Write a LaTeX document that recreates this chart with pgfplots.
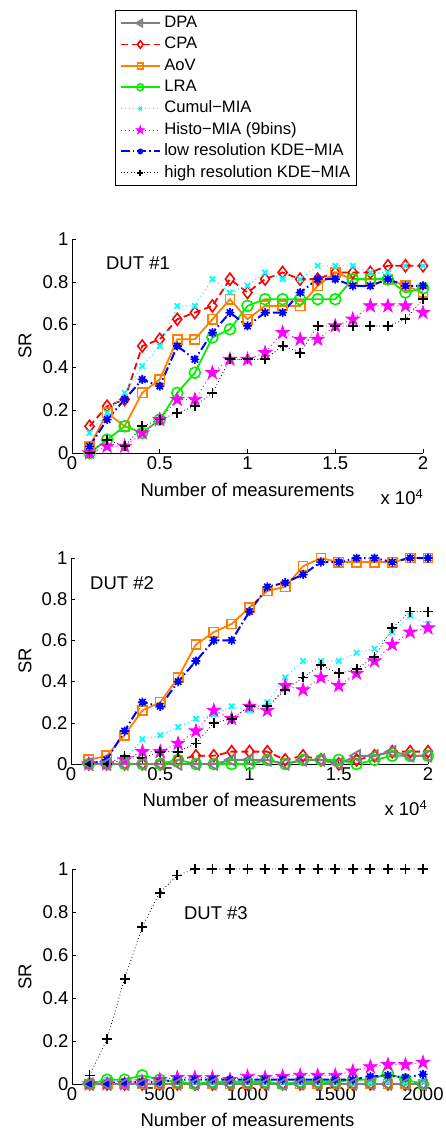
\documentclass[border=0pt]{standalone}
\usepackage{fontspec}
\setmainfont{Liberation Sans}
\usepackage{pgfplots}
\usepackage{pgfplotstable}
\pgfplotsset{compat=1.18}
\newcommand\fs{\fontsize{18.5}{22}\selectfont}
\definecolor{dpagray}{RGB}{128,128,128}
\definecolor{aovorange}{RGB}{255,128,0}
\definecolor{lragreen}{RGB}{0,240,0}
\definecolor{cumcyan}{RGB}{0,255,255}
\definecolor{hismag}{RGB}{255,0,255}

\pgfdeclareplotmark{pentagram}{%
 \pgfpathmoveto{\pgfpointpolar{90}{\pgfplotmarksize}}%
 \pgfpathlineto{\pgfpointpolar{126}{0.382\pgfplotmarksize}}%
 \pgfpathlineto{\pgfpointpolar{162}{\pgfplotmarksize}}%
 \pgfpathlineto{\pgfpointpolar{198}{0.382\pgfplotmarksize}}%
 \pgfpathlineto{\pgfpointpolar{234}{\pgfplotmarksize}}%
 \pgfpathlineto{\pgfpointpolar{270}{0.382\pgfplotmarksize}}%
 \pgfpathlineto{\pgfpointpolar{306}{\pgfplotmarksize}}%
 \pgfpathlineto{\pgfpointpolar{342}{0.382\pgfplotmarksize}}%
 \pgfpathlineto{\pgfpointpolar{18}{\pgfplotmarksize}}%
 \pgfpathlineto{\pgfpointpolar{54}{0.382\pgfplotmarksize}}%
 \pgfpathclose
 \pgfusepathqfillstroke
}
\pgfdeclareplotmark{mstar}{%
 \pgfpathcircle{\pgfpointorigin}{0.5\pgfplotmarksize}\pgfusepathqfillstroke
 \pgfpathmoveto{\pgfpoint{-\pgfplotmarksize}{0pt}}\pgfpathlineto{\pgfpoint{\pgfplotmarksize}{0pt}}%
 \pgfpathmoveto{\pgfpoint{0pt}{-\pgfplotmarksize}}\pgfpathlineto{\pgfpoint{0pt}{\pgfplotmarksize}}%
 \pgfpathmoveto{\pgfpointpolar{45}{\pgfplotmarksize}}\pgfpathlineto{\pgfpointpolar{225}{\pgfplotmarksize}}%
 \pgfpathmoveto{\pgfpointpolar{135}{\pgfplotmarksize}}\pgfpathlineto{\pgfpointpolar{315}{\pgfplotmarksize}}%
 \pgfusepathqstroke
}

\pgfplotsset{
 sDPA/.style={color=dpagray, line width=2pt, mark=triangle, mark size=6.5pt, mark options={solid, rotate=90, line width=1.8pt}},
 sCPA/.style={color=red, line width=1.8pt, dash pattern=on 7pt off 4pt, mark=diamond, mark size=6pt, mark options={solid, line width=1.6pt}},
 sAoV/.style={color=aovorange, line width=1.8pt, mark=square, mark size=4.6pt, mark options={solid, line width=1.6pt}},
 sLRA/.style={color=lragreen, line width=1.8pt, mark=o, mark size=5.5pt, mark options={solid, line width=1.6pt}},
 sCum/.style={color=cumcyan, line width=1pt, dash pattern=on 1pt off 3pt, mark=x, mark size=3.8pt, mark options={solid, line width=1.8pt}},
 sHis/.style={color=hismag, line width=1pt, dash pattern=on 1pt off 3pt, mark=pentagram, mark size=7pt, mark options={solid, fill=hismag, line width=0.8pt}},
 sLow/.style={color=blue, line width=2pt, dash pattern=on 9pt off 3pt on 1.5pt off 3pt, mark=mstar, mark size=4.5pt, mark options={solid, fill=blue, line width=1.6pt}},
 sHigh/.style={color=black, line width=0.8pt, dash pattern=on 0.8pt off 2.5pt, mark=+, mark size=5pt, mark options={solid, line width=1.8pt}},
 myaxis/.style={
  scale only axis, axis lines=left, axis line style={-, line width=0.6pt},
  xmin=0, ymin=0, ymax=1, tick align=inside, major tick length=4pt,
  tick style={black, line width=0.6pt}, scaled x ticks=false, scaled y ticks=false,
  ytick={0,0.2,0.4,0.6,0.8,1}, yticklabels={0,0.2,0.4,0.6,0.8,1},
  tick label style={font=\fs}, label style={font=\fs},
  /pgf/number format/assume math mode=true,
  ylabel={SR}, xlabel={Number of measurements}, clip=false,
 },
}

\pgfplotstableread{
x cpa aov lra cum his low high
1000 0.125 0.03125 0 0.09375 0 0.03125 0
2000 0.21875 0.1875 0.0625 0.1875 0.03125 0.15625 0.0625
3000 0.25 0.125 0.125 0.28125 0.03125 0.25 0.03125
4000 0.5 0.28125 0.09375 0.40625 0.09375 0.34375 0.125
5000 0.53125 0.34375 0.15625 0.5 0.15625 0.3125 0.15625
6000 0.625 0.53125 0.28125 0.6875 0.25 0.5 0.1875
7000 0.65625 0.53125 0.375 0.6875 0.25 0.4375 0.21875
8000 0.6875 0.625 0.54 0.8125 0.375 0.5625 0.28125
9000 0.8125 0.71875 0.578 0.75 0.4375 0.65625 0.4375
10000 0.75 0.625 0.6875 0.78125 0.4375 0.59375 0.4375
11000 0.8125 0.6875 0.71875 0.84375 0.46875 0.65625 0.4375
12000 0.84375 0.6875 0.71875 0.8125 0.5625 0.65625 0.5
13000 0.8125 0.6875 0.71875 0.8125 0.53125 0.75 0.46875
14000 0.8125 0.78125 0.71875 0.875 0.53125 0.8125 0.59375
15000 0.84375 0.84375 0.71875 0.875 0.59375 0.8125 0.59375
16000 0.84375 0.8125 0.8125 0.875 0.625 0.78125 0.59375
17000 0.84375 0.8125 0.8125 0.84375 0.6875 0.78125 0.59375
18000 0.875 0.8125 0.8125 0.84375 0.6875 0.8125 0.59375
19000 0.875 0.78125 0.75 0.875 0.6875 0.78125 0.625
20000 0.875 0.75 0.77 0.875 0.65625 0.78125 0.71875
}\dutone

\pgfplotstableread{
x dpa cpa aov lra cum his low high
1000 0 0 0.02 0 0 0 0 0
2000 0 0 0.04 0 0 0 0.02 0
3000 0 0 0.14 0 0.02 0.02 0.16 0.04
4000 0 0 0.26 0 0.12 0.06 0.30 0.03
5000 0 0 0.30 0 0.14 0.06 0.28 0.06
6000 0 0.02 0.42 0.02 0.18 0.10 0.40 0.06
7000 0 0.04 0.58 0 0.22 0.16 0.50 0.10
8000 0 0.04 0.64 0 0.24 0.26 0.60 0.20
9000 0.02 0.06 0.68 0 0.28 0.22 0.60 0.22
10000 0.02 0.06 0.76 0 0.26 0.28 0.74 0.28
11000 0.02 0.06 0.84 0.02 0.30 0.26 0.86 0.28
12000 0 0.02 0.86 0 0.42 0.38 0.88 0.36
13000 0.02 0.04 0.96 0.02 0.50 0.36 0.92 0.42
14000 0.02 0.02 1.00 0.02 0.50 0.42 0.98 0.48
15000 0 0 0.98 0.02 0.50 0.38 0.98 0.44
16000 0.04 0.02 0.98 0 0.54 0.44 1.00 0.46
17000 0.04 0.04 0.98 0.02 0.56 0.50 1.00 0.52
18000 0.06 0.06 0.98 0.04 0.64 0.58 0.98 0.66
19000 0.04 0.06 1.00 0.04 0.72 0.64 1.00 0.74
20000 0.04 0.06 1.00 0.04 0.68 0.66 1.00 0.74
}\duttwo

\pgfplotstableread{
x dpa cpa aov lra cum his low high
100 0 0 0 0 0 0 0 0.04
200 0 0 0 0.02 0.02 0 0 0.21
300 0 0 0 0.02 0.01 0 0.01 0.49
400 0 0 0 0.04 0.01 0.01 0.01 0.73
500 0 0 0 0.02 0.01 0.02 0.01 0.89
600 0 0 0 0.01 0.02 0.03 0.02 0.97
700 0 0 0 0 0.01 0.03 0.02 1
800 0 0 0 0.01 0.01 0.03 0.02 1
900 0 0 0 0.01 0.01 0.02 0.02 1
1000 0 0 0 0.01 0.01 0.035 0.02 1
1100 0 0 0 0.01 0.01 0.03 0.02 1
1200 0 0 0 0 0.01 0.035 0.02 1
1300 0 0 0 0.01 0.01 0.04 0.02 1
1400 0 0 0 0.01 0.01 0.04 0.02 1
1500 0 0 0 0.01 0.01 0.04 0.02 1
1600 0 0 0 0.02 0.01 0.06 0.02 1
1700 0 0 0 0.02 0.01 0.08 0.035 1
1800 0 0 0 0.05 0.01 0.09 0.04 1
1900 0 0 0 0.02 0.01 0.09 0.03 1
2000 0 0 0 0 0.01 0.10 0.045 1
}\dutthree

\begin{document}
\begin{tikzpicture}
\useasboundingbox (0,0) rectangle (446pt,-1131pt);
% ---------------- DUT 1 ----------------
\begin{axis}[myaxis, at={(72pt,-453pt)}, anchor=south west, width=351pt, height=214pt,
  xmax=20000, xtick={0,5000,10000,15000,20000}, xticklabels={0,0.5,1,1.5,2},
  xlabel style={at={(axis description cs:0.5,-0.173)}, anchor=center},
  ylabel style={at={(axis description cs:-0.134,0.5)}, anchor=center},
  legend image code/.code={\draw[mark repeat=2,mark phase=2,#1, every mark/.append style={scale=0.62}] plot coordinates {(0pt,0pt) (19.5pt,0pt) (39pt,0pt)};},
  legend style={at={(axis description cs:0.1225,2.070)}, anchor=north west, draw=black, line width=0.6pt, fill=white,
    font=\fontsize{16.6}{19}\selectfont, inner xsep=4.5pt, inner ysep=3pt, row sep=1.9pt, column sep=1.5pt,
    nodes={inner sep=2pt, text height=12pt, text depth=3.5pt}},
  legend cell align=left]
\addlegendimage{sDPA}
\addlegendimage{sCPA}
\addlegendimage{sAoV}
\addlegendimage{sLRA}
\addlegendimage{sCum}
\addlegendimage{sHis}
\addlegendimage{sLow}
\addlegendimage{sHigh}
\addplot[sCPA, forget plot] table[x=x, y=cpa] {\dutone};
\addplot[sAoV, forget plot] table[x=x, y=aov] {\dutone};
\addplot[sLRA, forget plot] table[x=x, y=lra] {\dutone};
\addplot[sCum, forget plot] table[x=x, y=cum] {\dutone};
\addplot[sHis, forget plot] table[x=x, y=his] {\dutone};
\addplot[sLow, forget plot] table[x=x, y=low] {\dutone};
\addplot[sHigh, forget plot] table[x=x, y=high] {\dutone};
\legend{DPA, CPA, AoV, LRA, Cumul−MIA, Histo−MIA (9bins), low resolution KDE−MIA, high resolution KDE−MIA}
\node[font=\fs] at (axis description cs:0.188,0.888) {DUT \#1};
\node[font=\fs] at (axis description cs:0.94,-0.206) {x 10\textsuperscript{4}};
\end{axis}
% ---------------- DUT 2 ----------------
\begin{axis}[myaxis, at={(71pt,-764pt)}, anchor=south west, width=357pt, height=206pt,
  xmax=20000, xtick={0,5000,10000,15000,20000}, xticklabels={0,0.5,1,1.5,2},
  xlabel style={at={(axis description cs:0.5,-0.175)}, anchor=center},
  ylabel style={at={(axis description cs:-0.129,0.5)}, anchor=center}]
\addplot[sCPA] table[x=x, y=cpa] {\duttwo};
\addplot[sAoV] table[x=x, y=aov] {\duttwo};
\addplot[sLRA] table[x=x, y=lra] {\duttwo};
\addplot[sCum] table[x=x, y=cum] {\duttwo};
\addplot[sHis] table[x=x, y=his] {\duttwo};
\addplot[sLow] table[x=x, y=low] {\duttwo};
\addplot[sHigh] table[x=x, y=high] {\duttwo};
\addplot[sDPA] table[x=x, y=dpa] {\duttwo};
\node[font=\fs] at (axis description cs:0.143,0.879) {DUT \#2};
\node[font=\fs] at (axis description cs:0.938,-0.214) {x 10\textsuperscript{4}};
\end{axis}
% ---------------- DUT 3 ----------------
\begin{axis}[myaxis, at={(72pt,-1084pt)}, anchor=south west, width=351pt, height=215pt,
  xmax=2000, xtick={0,500,1000,1500,2000}, xticklabels={0,500,1000,1500,2000},
  xlabel style={at={(axis description cs:0.5,-0.167)}, anchor=center},
  ylabel style={at={(axis description cs:-0.134,0.5)}, anchor=center}]
\addplot[sCPA] table[x=x, y=cpa] {\dutthree};
\addplot[sAoV] table[x=x, y=aov] {\dutthree};
\addplot[sLRA] table[x=x, y=lra] {\dutthree};
\addplot[sCum] table[x=x, y=cum] {\dutthree};
\addplot[sHis] table[x=x, y=his] {\dutthree};
\addplot[sLow] table[x=x, y=low] {\dutthree};
\addplot[sHigh] table[x=x, y=high] {\dutthree};
\addplot[sDPA] table[x=x, y=dpa] {\dutthree};
\node[font=\fs] at (axis description cs:0.41,0.795) {DUT \#3};
\end{axis}
\end{tikzpicture}
\end{document}
